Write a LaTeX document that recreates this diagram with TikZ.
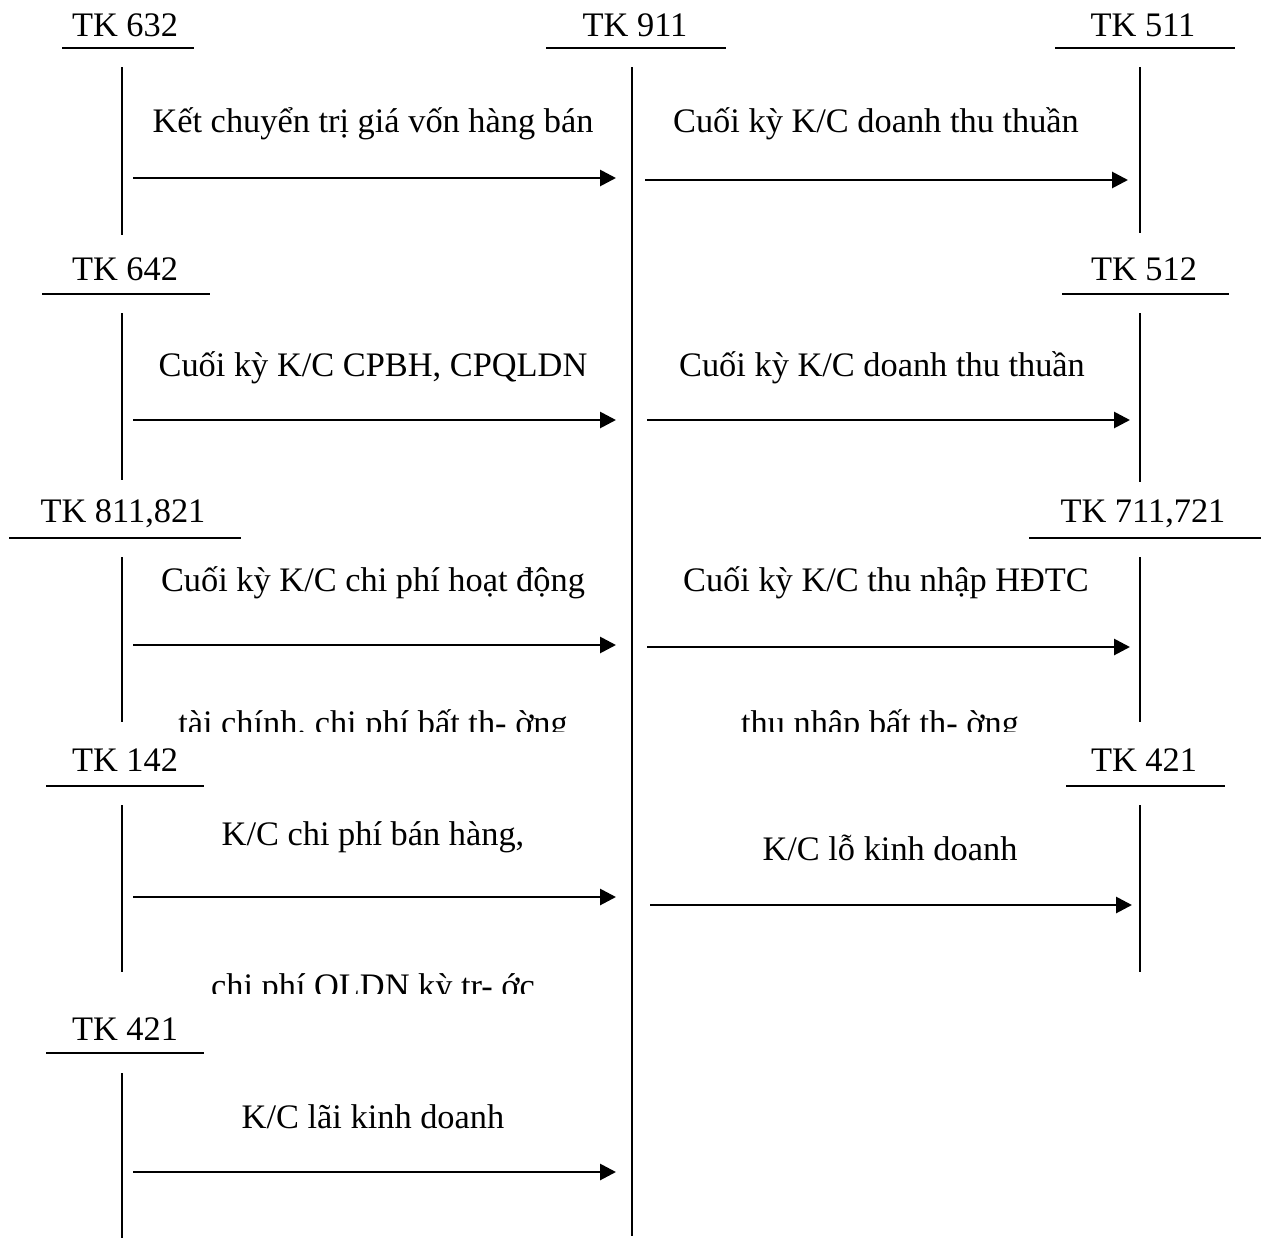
\documentclass[tikz,border=0pt]{standalone}
\usepackage{fontspec}
\setmainfont{Liberation Serif}
\usetikzlibrary{arrows.meta}
\begin{document}
\begin{tikzpicture}[x=1bp,y=-1bp,
  lbl/.style={font=\fontsize{34.5}{40}\selectfont, inner sep=0pt, anchor=base},
  acct/.style={line width=2.2bp},
  rule/.style={line width=2.6bp},
  flow/.style={line width=2.8bp, -{Triangle[length=16bp,width=16bp]}}]
\useasboundingbox (0,0) rectangle (1261,1238);

% ---- account headings with their rules
\node[lbl] (h632) at (125,36) {TK 632};
\node[lbl] (h911) at (635,36) {TK 911};
\node[lbl] (h511) at (1143,36) {TK 511};
\node[lbl] (h642) at (125,280) {TK 642};
\node[lbl] (h512) at (1144,280) {TK 512};
\node[lbl] (h811) at (123,522) {TK 811,821};
\node[lbl] (h711) at (1143,522) {TK 711,721};
\node[lbl] (h142) at (125,771) {TK 142};
\node[lbl] (h421r) at (1144,771) {TK 421};
\node[lbl] (h421) at (125,1040) {TK 421};

\draw[rule] (62,48) -- (194,48);
\draw[rule] (546,48) -- (726,48);
\draw[rule] (1055,48) -- (1235,48);
\draw[rule] (42,294) -- (210,294);
\draw[rule] (1062,294) -- (1229,294);
\draw[rule] (9,538) -- (241,538);
\draw[rule] (1029,538) -- (1261,538);
\draw[rule] (46,786) -- (204,786);
\draw[rule] (1066,786) -- (1225,786);
\draw[rule] (46,1053) -- (204,1053);

% ---- account verticals
\draw[acct] (632,67) -- (632,1236);
\foreach \a/\b in {67/235, 313/480, 557/722, 805/972, 1073/1238}
  \draw[acct] (122,\a) -- (122,\b);
\foreach \a/\b in {67/233, 313/482, 557/722, 805/972}
  \draw[acct] (1140,\a) -- (1140,\b);

% ---- arrow end points
\coordinate (l1s) at (133,178);  \coordinate (l1e) at (616,178);
\coordinate (r1s) at (645,180);  \coordinate (r1e) at (1128,180);
\coordinate (l2s) at (133,420);  \coordinate (l2e) at (616,420);
\coordinate (r2s) at (647,420);  \coordinate (r2e) at (1130,420);
\coordinate (l3s) at (133,645);  \coordinate (l3e) at (616,645);
\coordinate (r3s) at (647,647);  \coordinate (r3e) at (1130,647);
\coordinate (l4s) at (133,897);  \coordinate (l4e) at (616,897);
\coordinate (r4s) at (650,905);  \coordinate (r4e) at (1132,905);
\coordinate (l5s) at (133,1172); \coordinate (l5e) at (616,1172);

\draw[flow] (l1s) -- (l1e);
\draw[flow] (r1s) -- (r1e);
\draw[flow] (l2s) -- (l2e);
\draw[flow] (r2s) -- (r2e);
\draw[flow] (l3s) -- (l3e);
\draw[flow] (r3s) -- (r3e);
\draw[flow] (l4s) -- (l4e);
\draw[flow] (r4s) -- (r4e);
\draw[flow] (l5s) -- (l5e);

% ---- transfer labels
\node[lbl] (t1) at (373,132) {Kết chuyển trị giá vốn hàng bán};
\node[lbl] (t2) at (876,132) {Cuối kỳ K/C doanh thu thuần};
\node[lbl] (t3) at (373,376) {Cuối kỳ K/C CPBH, CPQLDN};
\node[lbl] (t4) at (882,376) {Cuối kỳ K/C doanh thu thuần};
\node[lbl] (t5) at (373,591) {Cuối kỳ K/C chi phí hoạt động};
\node[lbl] (t6) at (886,591) {Cuối kỳ K/C thu nhập HĐTC};
\node[lbl] (t7) at (373,845) {K/C chi phí bán hàng,};
\node[lbl] (t8) at (890,860) {K/C lỗ kinh doanh};
\node[lbl] (t9) at (373,1128) {K/C lãi kinh doanh};

% second lines, cut off at the bottom of their text frames
\begin{scope}
  \clip (0,600) rectangle (1261,731);
  \node[lbl] (t5b) at (373,734) {tài chính, chi phí bất th- ờng};
  \node[lbl] (t6b) at (880,734) {thu nhập bất th- ờng};
\end{scope}
\begin{scope}
  \clip (0,900) rectangle (1261,993);
  \node[lbl] (t7b) at (373,997) {chi phí QLDN kỳ tr- ớc};
\end{scope}
\end{tikzpicture}
\end{document}
